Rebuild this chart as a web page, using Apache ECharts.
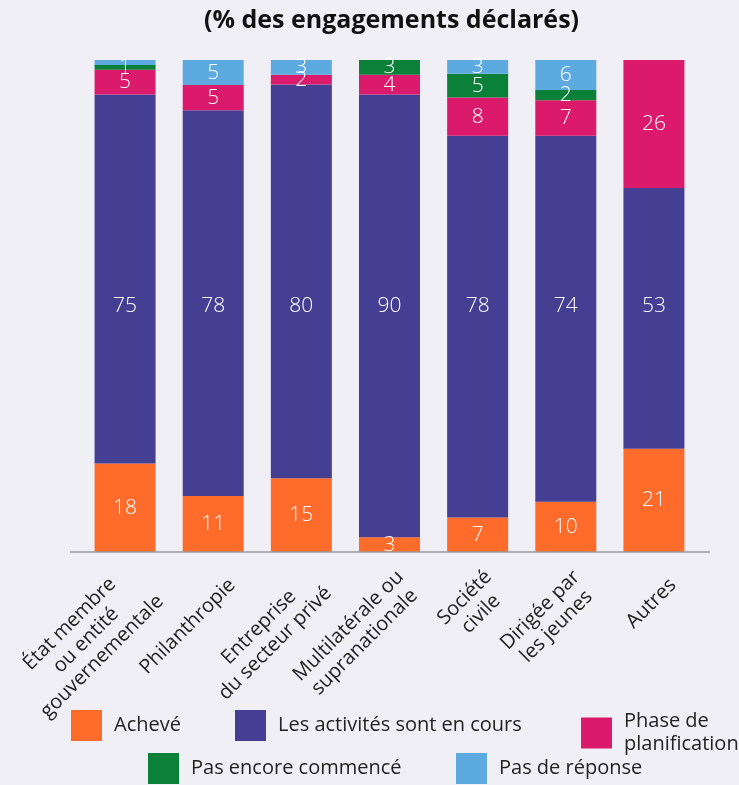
<!DOCTYPE html>
<html><head><meta charset="utf-8">
<script src="https://cdn.jsdelivr.net/npm/echarts@6/dist/echarts.min.js"></script>
<style>html,body{margin:0;padding:0;background:#f0eff6;}#c{width:739px;height:785px;}</style>
</head><body><div id="c"></div>
<script>
const categories = ["État membre\nou entité\ngouvernementale", "Philanthropie", "Entreprise\ndu secteur privé", "Multilatérale ou\nsupranationale", "Société\ncivile", "Dirigée par\nles jeunes", "Autres"];
const acheve = [18, 11.4, 15, 3, 7, 10.2, 21];
const enCours = [75, 78.4, 80, 90, 77.6, 74.4, 53];
const planification = [5, 5.1, 2, 4, 7.8, 7.2, 26];
const pasCommence = [1, 0, 0, 3, 4.8, 2.1, 0];
const pasReponse = [1, 5.1, 3, 0, 2.8, 6.1, 0];

const FONT = "'Open Sans', Lato, sans-serif";
const GRID_TOP = 60, GRID_BOTTOM = 233, GRID_H = 785 - GRID_TOP - GRID_BOTTOM;

// "En cours" labels sit at the vertical middle of the plot (50 %)
const enCoursData = enCours.map((v, i) => {
  const mid = acheve[i] + v / 2;
  return {value: v, label: {offset: [0, (mid - 50) * GRID_H / 100]}};
});

const seriesDefs = [
  {name: "Achevé", data: acheve, color: "#ff6b2b"},
  {name: "Les activités sont en cours", data: enCoursData, color: "#453f93"},
  {name: "Phase de planification", data: planification, color: "#db1a6b"},
  {name: "Pas encore commencé", data: pasCommence, color: "#0a8039"},
  {name: "Pas de réponse", data: pasReponse, color: "#5daae0"}
];
const chart = echarts.init(document.getElementById('c'));
const legendPos = [
  {left: 71, top: 710},
  {left: 235, top: 710},
  {left: 581, top: 710},
  {left: 148, top: 753},
  {left: 456, top: 753}
];
chart.setOption({
  backgroundColor: "#f0eff6",
  animation: false,
  title: {text: "(% des engagements déclarés)", left: 199, top: 3,
    textStyle: {fontFamily: FONT, fontWeight: "bold", fontSize: 25, color: "#111"}},
  grid: [
    {left: 81, right: 41, top: GRID_TOP, bottom: GRID_BOTTOM},
    {left: 100, right: 22, top: GRID_TOP, bottom: GRID_BOTTOM}
  ],
  legend: seriesDefs.map((s, i) => ({
    data: [s.name], left: legendPos[i].left, top: legendPos[i].top,
    itemWidth: 31, itemHeight: 31, itemGap: 10, icon: "rect", padding: 0,
    formatter: n => n === "Phase de planification" ? "Phase de\nplanification" : n,
    textStyle: {fontFamily: FONT, fontSize: 20, color: "#222", lineHeight: 23, padding: [0,0,0,7]}
  })),
  xAxis: [
    {type: "category", data: categories, gridIndex: 0,
      axisLine: {show: false}, axisTick: {show: false}, axisLabel: {show: false}},
    {type: "category", data: categories, gridIndex: 1,
      axisLine: {show: false}, axisTick: {show: false},
      axisLabel: {rotate: 45, interval: 0, margin: 30, color: "#222",
        formatter: v => v.split("\n").map(l => "{c|" + l + "}").join("\n"),
        rich: {c: {align: "center", fontFamily: FONT, fontSize: 20, color: "#222", lineHeight: 23}}}}
  ],
  yAxis: [
    {type: "value", min: 0, max: 100, show: false, gridIndex: 0},
    {type: "value", min: 0, max: 100, show: false, gridIndex: 1}
  ],
  graphic: [{type: "line", shape: {x1: 70, y1: 552, x2: 710, y2: 552}, style: {stroke: "#9a9a9a", lineWidth: 1.5}, z: 10}],
  series: seriesDefs.map(s => ({
    name: s.name, type: "bar", stack: "t", data: s.data, barWidth: 61,
    itemStyle: {color: s.color},
    label: {show: true, position: "inside", color: "#fff", fontFamily: FONT, fontSize: 21, fontWeight: 300,
      formatter: p => {
        const v = Math.round(p.value);
        if (v <= 0) return "";
        if (s.name === "Pas de réponse" && v < 2) return "";
        return String(v);
      }}
  }))
});
</script></body></html>
